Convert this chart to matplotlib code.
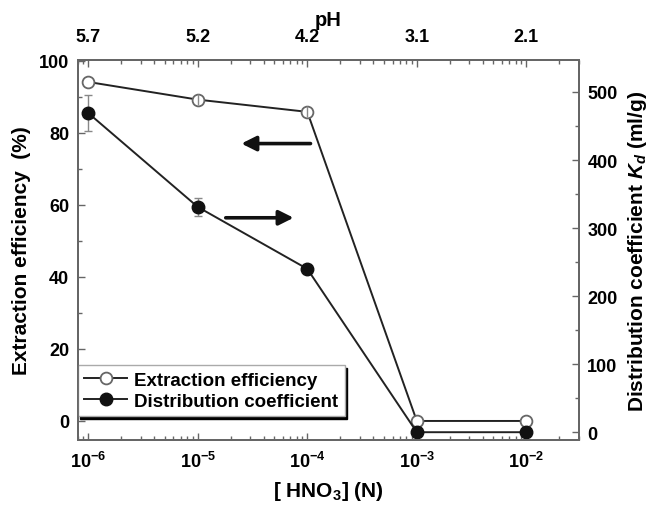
import matplotlib
matplotlib.use("Agg")
import matplotlib.pyplot as plt
from matplotlib.ticker import MultipleLocator, LogLocator, NullFormatter
from matplotlib.lines import Line2D

plt.rcParams['font.family'] = ['Liberation Sans', 'DejaVu Sans']
plt.rcParams['font.weight'] = 'bold'
plt.rcParams['axes.labelweight'] = 'bold'
plt.rcParams['mathtext.fontset'] = 'custom'
plt.rcParams['mathtext.rm'] = 'Liberation Sans:bold'
plt.rcParams['mathtext.bf'] = 'Liberation Sans:bold'
plt.rcParams['mathtext.it'] = 'Liberation Sans:italic:bold'
plt.rcParams['mathtext.default'] = 'bf'

# ---- data ----
hno3 = [1e-6, 1e-5, 1e-4, 1e-3, 1e-2]
ph_labels = ['5.7', '5.2', '4.2', '3.1', '2.1']
extraction = [94.1, 89.2, 85.8, 0.0, 0.0]
extraction_err = [0.0, 1.5, 1.5, 0.0, 0.0]
kd = [469, 331, 240, 0, 0]
kd_err = [26, 13, 0, 0, 0]
xtick_labels = [r'$10^{-6}$', r'$10^{-5}$', r'$10^{-4}$', r'$10^{-3}$', r'$10^{-2}$']

spine_c = '#666666'
fs_tick = 13
fs_lab = 15

fig = plt.figure(figsize=(6.5, 5.1), dpi=100)
ax = fig.add_axes([0.1195, 0.1359, 0.7713, 0.7445])
ax2 = ax.twinx()
ax3 = ax.twiny()

ax.set_xscale('log')
ax3.set_xscale('log')
xlim = (8.0e-7, 3.03e-2)
ax.set_xlim(*xlim)
ax3.set_xlim(*xlim)
ax.set_ylim(-5.2, 100.2)
ax2.set_ylim(-11, 547)

# extraction efficiency (left)
ax.plot(hno3, extraction, '-', color='#222222', lw=1.4, zorder=3)
ax.plot(hno3, extraction, 'o', ms=8.5, mfc='white', mec='#666666', mew=1.3, ls='none', zorder=4)
ax.errorbar(hno3, extraction, yerr=extraction_err, fmt='none', ecolor='#888888',
            elinewidth=1.0, capsize=0, zorder=5)

# distribution coefficient (right)
ax2.errorbar(hno3, kd, yerr=kd_err, fmt='none', ecolor='#888888', elinewidth=1.0,
             capsize=3, capthick=1.0, zorder=2)
ax2.plot(hno3, kd, '-', color='#222222', lw=1.4, zorder=3)
ax2.plot(hno3, kd, 'o', ms=9, mfc='#111111', mec='#111111', ls='none', zorder=4)

# arrows
left_arrow = dict(tail=(1.07e-4, 77), head=(2.5e-5, 77))
right_arrow = dict(tail=(1.8e-5, 56.4), head=(7.5e-5, 56.4))
for a in (left_arrow, right_arrow):
    ax.annotate('', xy=a['head'], xytext=a['tail'],
                arrowprops=dict(arrowstyle='-|>', color='#111111', lw=2.6,
                                mutation_scale=22, shrinkA=0, shrinkB=0))

# ticks
ax.set_xticks(hno3)
ax.set_xticklabels(xtick_labels)
ax.xaxis.set_minor_locator(LogLocator(base=10, subs=range(2, 10), numticks=20))
ax.xaxis.set_minor_formatter(NullFormatter())
ax3.set_xticks(hno3)
ax3.set_xticklabels(ph_labels)
ax3.xaxis.set_minor_locator(LogLocator(base=10, subs=range(2, 10), numticks=20))
ax3.xaxis.set_minor_formatter(NullFormatter())

ax.yaxis.set_major_locator(MultipleLocator(20))
ax.yaxis.set_minor_locator(MultipleLocator(10))
ax2.yaxis.set_major_locator(MultipleLocator(100))
ax2.yaxis.set_minor_locator(MultipleLocator(50))

for a in (ax, ax2, ax3):
    a.tick_params(which='both', direction='in', color=spine_c, labelsize=fs_tick, width=1.0)
    a.tick_params(which='major', length=5)
    a.tick_params(which='minor', length=3)
    for s in a.spines.values():
        s.set_color(spine_c)
        s.set_linewidth(1.2)
ax.tick_params(axis='x', pad=8)
ax3.tick_params(axis='x', pad=11)
ax.tick_params(axis='y', pad=6)
ax2.tick_params(axis='y', pad=6)

ax.set_ylabel('Extraction efficiency  (%)', fontsize=fs_lab, labelpad=6)
ax2.set_ylabel(r'Distribution coefficient $\mathit{K_d}$ (ml/g)', fontsize=fs_lab, labelpad=6)
ax.set_xlabel(r'[ HNO$_3$] (N)', fontsize=fs_lab, labelpad=6)
ax3.set_xlabel('pH', fontsize=fs_lab - 0.5, labelpad=2)

# legend
h1 = Line2D([], [], color='#222222', lw=1.4, marker='o', ms=8.5, mfc='white', mec='#666666', mew=1.3)
h2 = Line2D([], [], color='#222222', lw=1.4, marker='o', ms=9, mfc='#111111', mec='#111111')
leg = ax2.legend([h1, h2], ['Extraction efficiency', 'Distribution coefficient'],
                 loc='lower left', bbox_to_anchor=(0.0, 0.062), borderaxespad=0,
                 fancybox=False, framealpha=1, edgecolor='#aaaaaa',
                 shadow={'color': 'black', 'alpha': 1},
                 prop={'size': 13.5, 'weight': 'bold'},
                 handlelength=2.3, handletextpad=0.35, labelspacing=0.2, borderpad=0.35)
leg.set_zorder(10)

fig.savefig('out.png', dpi=100)
